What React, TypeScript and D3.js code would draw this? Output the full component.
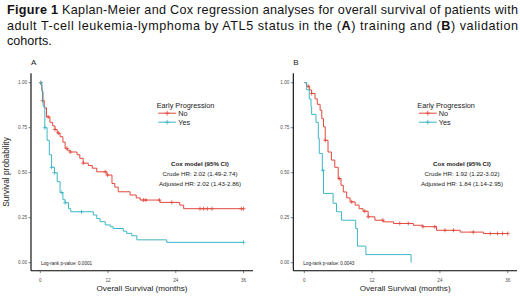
import React from "react";
import * as d3 from "d3";

// ---------- data ----------
const xTicks = [0, 12, 24, 36];
const yTicks = [0, 0.25, 0.5, 0.75, 1];

// Panel A (training)
const aNoTimes = [0, 0.15, 0.25, 0.4, 0.7, 1.1, 1.7, 2.2, 2.6, 3.0, 3.5, 4.0, 4.4, 4.8, 5.3, 6.5, 7.0, 7.6, 8.5, 9.2, 10.0, 11.8, 12.7, 13.2, 13.8, 15.9, 17.0, 17.7, 21.2, 24.7, 25.4];
const aNoSurv = [1.0, 0.99, 0.96, 0.9, 0.86, 0.81, 0.78, 0.76, 0.74, 0.72, 0.7, 0.67, 0.635, 0.625, 0.615, 0.6, 0.58, 0.553, 0.54, 0.525, 0.505, 0.487, 0.44, 0.42, 0.394, 0.376, 0.36, 0.348, 0.335, 0.32, 0.3];
const aNoCensor = [0.1, 0.4, 1.4, 2.6, 3.2, 4.7, 5.3, 7.6, 11.5, 11.9, 18.3, 18.7, 21.1, 23.3, 28.3, 28.9, 29.6, 30.4, 35.6, 36];

const aYesTimes = [0, 0.15, 0.3, 0.5, 0.8, 1.2, 1.6, 2.0, 2.5, 3.0, 3.5, 4.0, 4.4, 5.0, 5.4, 9.4, 10.0, 10.6, 11.5, 12.4, 12.9, 14.7, 15.3, 16.2, 17.1, 22.4];
const aYesSurv = [1.0, 0.99, 0.95, 0.87, 0.75, 0.68, 0.6, 0.53, 0.5, 0.45, 0.39, 0.35, 0.333, 0.3, 0.283, 0.265, 0.245, 0.228, 0.21, 0.2, 0.19, 0.175, 0.163, 0.15, 0.127, 0.113];
const aYesCensor = [0.1, 0.8, 2.0, 2.5, 3.8, 4.4, 7.3, 36];

// Panel B (validation)
const bNoTimes = [0, 0.4, 0.9, 1.3, 1.9, 2.3, 2.8, 3.1, 3.4, 3.7, 4.2, 4.8, 5.4, 6.0, 6.5, 6.9, 7.5, 8.1, 9.0, 9.7, 10.4, 11.3, 12.5, 14.0, 15.8, 19.3, 21.0, 23.4, 27.6, 31.7];
const bNoSurv = [1.0, 0.98, 0.96, 0.94, 0.91, 0.88, 0.847, 0.8, 0.755, 0.68, 0.615, 0.57, 0.53, 0.467, 0.43, 0.393, 0.36, 0.338, 0.32, 0.3, 0.286, 0.255, 0.236, 0.227, 0.218, 0.208, 0.2, 0.18, 0.17, 0.162];
const bNoCensor = [0.7, 1.3, 3.7, 6.2, 8.4, 10.7, 11.3, 13.9, 16.9, 18.4, 21.0, 23.1, 24.9, 26.4, 29.9, 32.9, 34.2, 35.1, 36];

const bYesTimes = [0, 0.42, 0.88, 1.19, 1.3, 2.07, 2.48, 2.65, 3.19, 3.4, 5.1, 5.7, 6.6, 9.1, 9.4, 10.9, 18.9];
const bYesSurv = [1.0, 0.96, 0.91, 0.866, 0.824, 0.78, 0.69, 0.607, 0.513, 0.385, 0.33, 0.283, 0.236, 0.19, 0.092, 0.045, 0.0];
const bYesCensor = [3.3];

const groups = ["No", "Yes"];
const legendTitle = "Early Progression";
const coxA = ["Cox model (95% CI)", "Crude HR: 2.02 (1.49-2.74)", "Adjusted HR: 2.02 (1.43-2.86)"];
const coxB = ["Cox model (95% CI)", "Crude HR: 1.92 (1.22-3.02)", "Adjusted HR: 1.84 (1.14-2.95)"];
const pA = "Log-rank p-value: 0.0001";
const pB = "Log-rank p-value: 0.0043";
const xTitle = "Overall Survival (months)";
const yTitle = "Survival probability";

const RED = "#E2483C";
const CYAN = "#3DB7C6";
const FONT = "'Liberation Sans', Arial, Helvetica, sans-serif";

type Curve = { times: number[]; surv: number[]; censor: number[]; color: string };

function survAt(c: Curve, t: number) {
  let s = c.surv[0];
  for (let i = 0; i < c.times.length; i++) if (c.times[i] <= t) s = c.surv[i];
  return s;
}

function Panel(props: {
  label: string;
  curves: Curve[];
  x0: number; x36: number; axisX: number; axisRight: number;
  legendX: number; coxX: number; cox: string[]; pval: string; showYTitle: boolean;
}) {
  const { label, curves, x0, x36, axisX, axisRight, legendX, coxX, cox, pval, showYTitle } = props;
  const x = d3.scaleLinear().domain([0, 36]).range([x0, x36]);
  const y = d3.scaleLinear().domain([0, 1]).range([262.7, 82.7]);
  const axisY = 270.7;
  const axisTop = 73.3;
  const line = d3.line<[number, number]>().x(d => x(d[0])).y(d => y(d[1])).curve(d3.curveStepAfter);
  const fmt = d3.format(".2f");
  const cross = (cx: number, cy: number, color: string, k: string, sz = 2) => (
    <path key={k} d={`M${cx - sz},${cy}H${cx + sz}M${cx},${cy - sz}V${cy + sz}`} stroke={color} strokeWidth={0.8} fill="none" />
  );
  return (
    <g fontFamily={FONT}>
      <text x={axisX} y={65} fontSize={8} fill="#222">{label}</text>
      {curves.map((c, i) => {
        const tEnd = Math.max(c.times[c.times.length - 1], ...c.censor);
        const pts: [number, number][] = c.times.map((t, j) => [t, c.surv[j]] as [number, number]);
        pts.push([tEnd, c.surv[c.surv.length - 1]]);
        return (
          <g key={i}>
            <path d={line(pts) || ""} fill="none" stroke={c.color} strokeWidth={1} />
            {c.censor.map((t, j) => cross(x(t), y(survAt(c, t)), c.color, `c${j}`))}
          </g>
        );
      })}
      {/* axes */}
      <line x1={axisX} x2={axisX} y1={axisTop} y2={axisY} stroke="#000" strokeWidth={1.1} />
      <line x1={axisX} x2={axisRight} y1={axisY} y2={axisY} stroke="#000" strokeWidth={1.1} />
      {yTicks.map(v => (
        <g key={v}>
          <line x1={axisX - 2.5} x2={axisX} y1={y(v)} y2={y(v)} stroke="#333" strokeWidth={0.6} />
          <text x={axisX - 4} y={y(v) + 1.6} fontSize={4.6} textAnchor="end" fill="#4d4d4d">{fmt(v)}</text>
        </g>
      ))}
      {xTicks.map(v => (
        <g key={v}>
          <line x1={x(v)} x2={x(v)} y1={axisY} y2={axisY + 2.5} stroke="#333" strokeWidth={0.6} />
          <text x={x(v)} y={282.3} fontSize={4.6} textAnchor="middle" fill="#4d4d4d">{v}</text>
        </g>
      ))}
      <text x={(axisX + axisRight) / 2} y={291.3} fontSize={8.1} textAnchor="middle" fill="#222">{xTitle}</text>
      {showYTitle && (
        <text transform={`translate(8.5,${(axisTop + axisY) / 2}) rotate(-90)`} fontSize={8.3} textAnchor="middle" fill="#222">{yTitle}</text>
      )}
      {/* legend */}
      <text x={legendX} y={108.2} fontSize={7.3} fill="#222">{legendTitle}</text>
      {groups.map((g, i) => {
        const ly = 113.2 + i * 9;
        return (
          <g key={g}>
            <line x1={legendX + 1.5} x2={legendX + 19.5} y1={ly} y2={ly} stroke={curves[i].color} strokeWidth={1} />
            {cross(legendX + 10.5, ly, curves[i].color, "l" + g, 2.4)}
            <text x={legendX + 21.5} y={ly + 3} fontSize={7.3} fill="#222">{g}</text>
          </g>
        );
      })}
      {/* cox */}
      {cox.map((s, i) => (
        <text key={i} x={coxX} y={166 + i * 10} fontSize={6.2} textAnchor="middle" fontWeight={i === 0 ? "bold" : "normal"} fill="#222">{s}</text>
      ))}
      <text x={axisX + 10} y={265.3} fontSize={4.6} fill="#222">{pval}</text>
    </g>
  );
}

export default function App() {
  const curvesA: Curve[] = [
    { times: aNoTimes, surv: aNoSurv, censor: aNoCensor, color: RED },
    { times: aYesTimes, surv: aYesSurv, censor: aYesCensor, color: CYAN },
  ];
  const curvesB: Curve[] = [
    { times: bNoTimes, surv: bNoSurv, censor: bNoCensor, color: RED },
    { times: bYesTimes, surv: bYesSurv, censor: bYesCensor, color: CYAN },
  ];
  return (
    <div style={{ position: "absolute", left: 0, top: 0 }}>
      <svg width={520} height={297} style={{ display: "block", background: "#fff" }}>
        <g fontFamily={FONT} fontSize={12.6} fill="#111">
          <text x={7} y={14} textLength={511} lengthAdjust="spacing">
            <tspan fontWeight="bold">Figure 1</tspan> Kaplan-Meier and Cox regression analyses for overall survival of patients with
          </text>
          <text x={7} y={29.5} textLength={511} lengthAdjust="spacing">
            adult T-cell leukemia-lymphoma by ATL5 status in the (<tspan fontWeight="bold">A</tspan>) training and (<tspan fontWeight="bold">B</tspan>) validation
          </text>
          <text x={7} y={45}>cohorts.</text>
        </g>
        <Panel label="A" curves={curvesA} x0={40.3} x36={243.5} axisX={31} axisRight={253}
          legendX={156.7} coxX={200} cox={coxA} pval={pA} showYTitle={true} />
        <Panel label="B" curves={curvesB} x0={304.3} x36={507.7} axisX={293.3} axisRight={517}
          legendX={417.3} coxX={462} cox={coxB} pval={pB} showYTitle={false} />
      </svg>
    </div>
  );
}
